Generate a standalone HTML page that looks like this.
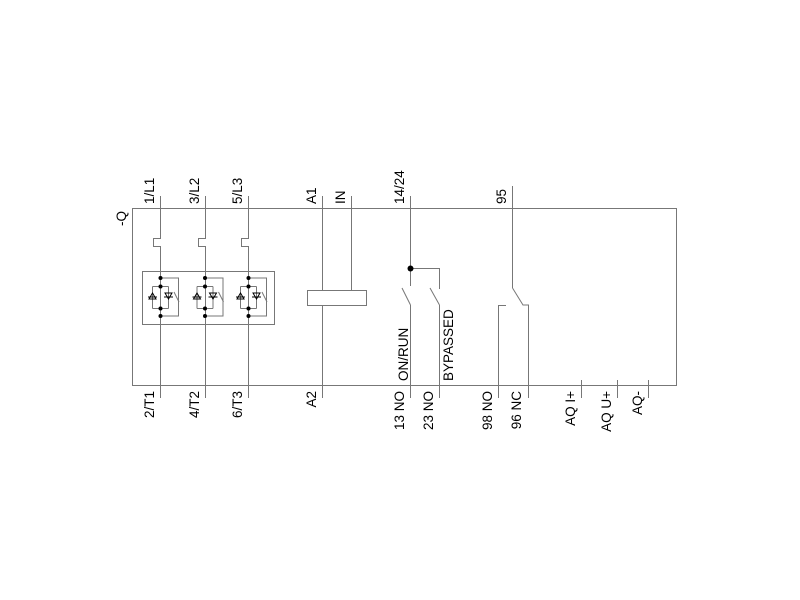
<!DOCTYPE html>
<html><head><style>body{margin:0;background:#fff}svg{display:block}</style></head><body>
<svg width="800" height="600" xmlns="http://www.w3.org/2000/svg" font-family="Liberation Sans, sans-serif" font-size="13.5" fill="#000">
<g stroke="#777" stroke-width="1" fill="none">
<rect x="132.5" y="208.5" width="544" height="177"/>
<path d="M160.5,196 V238.5 H153.5 V246.5 H160.5 V398"/>
<path d="M205.5,196 V238.5 H198.5 V246.5 H205.5 V398"/>
<path d="M248.5,196 V238.5 H241.5 V246.5 H248.5 V398"/>
<rect x="142.5" y="271.5" width="132" height="53"/>
<g id="t1">
<path d="M160.5,278 H178.5 V316 H160.5"/>
<path d="M152.5,286.5 H168.5 M152.5,308.5 H168.5 M152.5,286.5 V308.5 M168.5,286.5 V308.5"/>
<path d="M148,297 H157 M152.5,293 L156,299 H149 Z M164,297 H173 M168.5,299 L172,293 H165 Z" stroke="#000"/>
<path d="M174,292 L179,302"/>
</g>
<use href="#t1" x="44.5"/>
<use href="#t1" x="88"/>
<path d="M322.5,196 V398 M351.5,196 V290"/>
<rect x="307.5" y="290.5" width="59" height="15" fill="#fff"/>
<path d="M410.5,196 V286 M402,288 L410.5,305 M410.5,305 V398"/>
<path d="M410.5,268.5 H439.5 V289 M430,288 L439.5,305 M439.5,305 V398"/>
<path d="M512.5,186 V288 M512.5,288 L523,305 H528.5 V398"/>
<path d="M506,305.5 H498.5 V398"/>
<path d="M581.5,380 V398 M617.5,380 V398 M648.5,380 V398"/>
</g>
<circle cx="410.5" cy="268.5" r="3"/>
<g fill="#000">
<circle cx="160.5" cy="278" r="2"/><circle cx="160.5" cy="286.5" r="2"/><circle cx="160.5" cy="308.5" r="2"/><circle cx="160.5" cy="316" r="2"/>
<circle cx="205" cy="278" r="2"/><circle cx="205" cy="286.5" r="2"/><circle cx="205" cy="308.5" r="2"/><circle cx="205" cy="316" r="2"/>
<circle cx="248.5" cy="278" r="2"/><circle cx="248.5" cy="286.5" r="2"/><circle cx="248.5" cy="308.5" r="2"/><circle cx="248.5" cy="316" r="2"/>
</g>
<g>
<text transform="translate(126,226) rotate(-90)">-Q</text>
<text transform="translate(154,204) rotate(-90)">1/L1</text>
<text transform="translate(199,204) rotate(-90)">3/L2</text>
<text transform="translate(242,204) rotate(-90)">5/L3</text>
<text transform="translate(316,204) rotate(-90)">A1</text>
<text transform="translate(345,204) rotate(-90)">IN</text>
<text transform="translate(404,204) rotate(-90)">14/24</text>
<text transform="translate(506,204) rotate(-90)">95</text>
<text transform="translate(408,381) rotate(-90)">ON/RUN</text>
<text transform="translate(453,381) rotate(-90)">BYPASSED</text>
</g>
<g text-anchor="end">
<text transform="translate(154,391) rotate(-90)">2/T1</text>
<text transform="translate(199,391) rotate(-90)">4/T2</text>
<text transform="translate(242,391) rotate(-90)">6/T3</text>
<text transform="translate(316,391) rotate(-90)">A2</text>
<text transform="translate(404,391) rotate(-90)">13 NO</text>
<text transform="translate(433,391) rotate(-90)">23 NO</text>
<text transform="translate(492,391) rotate(-90)">98 NO</text>
<text transform="translate(521,391) rotate(-90)">96 NC</text>
<text transform="translate(575,391) rotate(-90)">AQ I+</text>
<text transform="translate(611,391) rotate(-90)">AQ U+</text>
<text transform="translate(642,391) rotate(-90)">AQ-</text>
</g>
</svg>
</body></html>
